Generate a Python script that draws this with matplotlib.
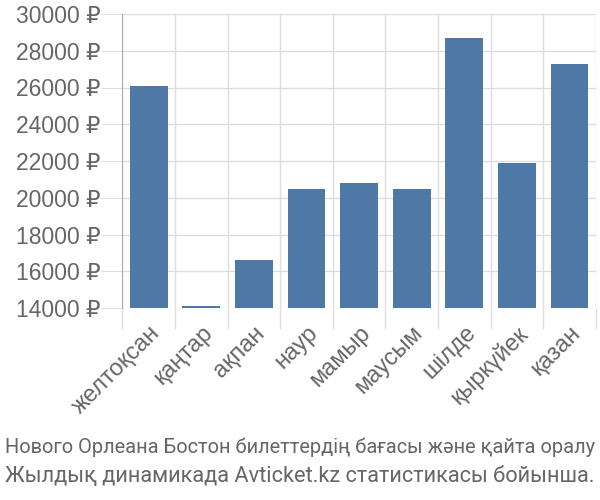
import numpy as np
import matplotlib.pyplot as plt
from matplotlib.ticker import FixedLocator

months = ["желтоқсан", "қаңтар", "ақпан", "наур", "мамыр", "маусым", "шілде", "қыркүйек", "қазан"]
prices = [26100, 14100, 16600, 20500, 20800, 20500, 28700, 21900, 27300]
yticks = [14000, 16000, 18000, 20000, 22000, 24000, 26000, 28000, 30000]
caption = ["Нового Орлеана Бостон билеттердің бағасы және қайта оралу",
           "Жылдық динамикада Avticket.kz статистикасы бойынша."]

plt.rcParams["font.family"] = ["Liberation Sans", "DejaVu Sans"]
txt = "#666666"
grid = "#dddddd"

fig = plt.figure(figsize=(6, 5), dpi=100)
ax = fig.add_axes([0.204, 0.384, 0.789, 0.588])

x = np.arange(len(months))
base = yticks[0]
ax.bar(x, np.array(prices) - base, bottom=base, width=0.72, color="#4e79a7", zorder=3)

ax.set_xlim(-0.5, len(months) - 0.5)
ax.set_ylim(yticks[0], yticks[-1])
ax.set_yticks(yticks)
ax.set_yticklabels([f"{v} ₽" for v in yticks], fontsize=16.5, color=txt)
ax.set_xticks(x)
ax.set_xticklabels(months, rotation=45, ha="right", va="top", rotation_mode="anchor",
                   fontsize=17, color=txt)
ax.xaxis.set_minor_locator(FixedLocator(np.arange(len(months) + 1) - 0.5))
ax.tick_params(axis="x", which="major", length=0, pad=10)
ax.tick_params(axis="x", which="minor", length=15, color=grid, width=1)
ax.tick_params(axis="y", length=15, color=grid, pad=1)
ax.grid(axis="y", color=grid, linewidth=1, zorder=0)
ax.grid(axis="x", which="minor", color=grid, linewidth=1, zorder=0)
for s in ["top", "right", "bottom"]:
    ax.spines[s].set_visible(False)
ax.spines["left"].set_color("#aaaaaa")

cap_font = ["Roboto", "DejaVu Sans"]
fig.text(0.5, 0.106, caption[0], ha="center", va="center", fontsize=14.4, color=txt, family=cap_font)
fig.text(0.5, 0.046, caption[1], ha="center", va="center", fontsize=15.7, color=txt, family=cap_font)

fig.savefig("out.png", dpi=100)
